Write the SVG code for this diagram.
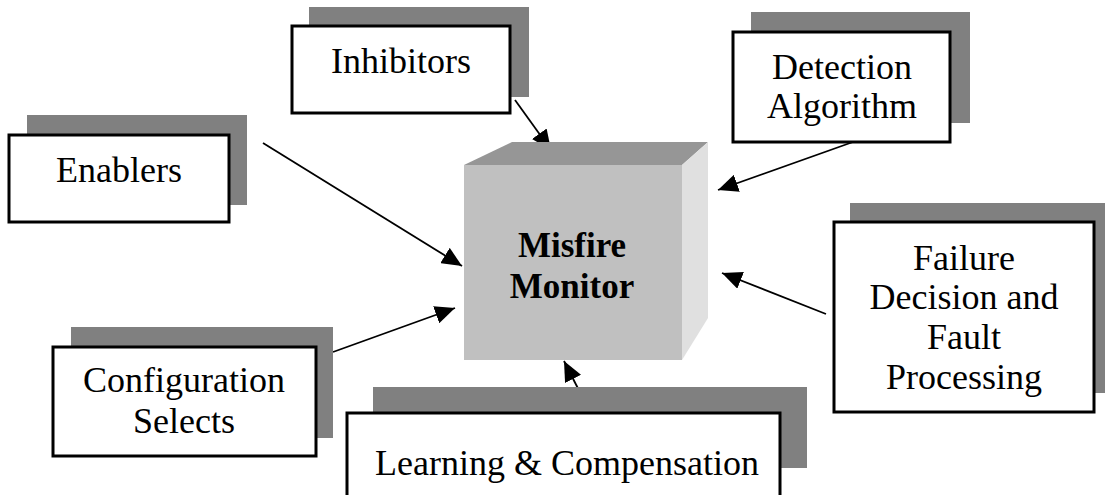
<svg xmlns="http://www.w3.org/2000/svg" width="1105" height="495" viewBox="0 0 1105 495">
<defs>
<marker id="ah" viewBox="0 0 20 18" refX="20" refY="9" markerWidth="20" markerHeight="18" markerUnits="userSpaceOnUse" orient="auto">
<path d="M0,0 L20,9 L0,18 Z" fill="#000"/>
</marker>
</defs>
<style>
.sh{fill:#808080}
.bx{fill:#fff;stroke:#000;stroke-width:3}
.t{font-family:"Liberation Serif","Times New Roman",serif;font-size:36px;fill:#000;text-anchor:middle}
.tb{font-family:"Liberation Serif","Times New Roman",serif;font-size:35px;font-weight:bold;fill:#000;text-anchor:middle}
.ln{stroke:#000;stroke-width:1.8;fill:none;marker-end:url(#ah)}
</style>
<rect width="1105" height="495" fill="#fff"/>
<g id="connectors">
<line class="ln" x1="515" y1="100" x2="551" y2="150"/>
<line class="ln" x1="263" y1="143" x2="462" y2="266"/>
<line class="ln" x1="333" y1="352" x2="455" y2="308"/>
<line class="ln" x1="590" y1="412" x2="564" y2="361"/>
<line class="ln" x1="867" y1="137" x2="718" y2="190"/>
<line class="ln" x1="826" y1="314" x2="722" y2="273"/>
</g>
<g id="misfire-monitor">
<polygon points="464,165 512,142 708,142 682,165" fill="#969696"/>
<polygon points="682,165 708,142 708,318 682,360" fill="#e0e0e0"/>
<rect x="464" y="165" width="218" height="195" fill="#c0c0c0"/>
<text class="tb" x="572" y="257">Misfire</text>
<text class="tb" x="572" y="298">Monitor</text>
</g>
<g id="inhibitors">
<rect class="sh" x="309" y="7" width="220" height="90"/>
<rect class="bx" x="292" y="26" width="218" height="87"/>
<text class="t" x="401" y="73">Inhibitors</text>
</g>
<g id="enablers">
<rect class="sh" x="27" y="115" width="220" height="90"/>
<rect class="bx" x="9" y="135" width="220" height="87"/>
<text class="t" x="119" y="182">Enablers</text>
</g>
<g id="configuration-selects">
<rect class="sh" x="71" y="327" width="262" height="111"/>
<rect class="bx" x="53" y="347" width="263" height="109"/>
<text class="t" x="184" y="392">Configuration</text>
<text class="t" x="184" y="433">Selects</text>
</g>
<g id="learning-compensation">
<rect class="sh" x="373" y="387" width="434" height="81"/>
<rect class="bx" x="347" y="413" width="433" height="90"/>
<text class="t" x="567" y="475">Learning &amp; Compensation</text>
</g>
<g id="detection-algorithm">
<rect class="sh" x="751" y="12" width="219" height="111"/>
<rect class="bx" x="733" y="32" width="217" height="110"/>
<text class="t" x="842" y="79">Detection</text>
<text class="t" x="842" y="118">Algorithm</text>
</g>
<g id="failure-decision">
<rect class="sh" x="850" y="203" width="255" height="190"/>
<rect class="bx" x="834" y="222" width="260" height="190"/>
<text class="t" x="964" y="270">Failure</text>
<text class="t" x="964" y="309">Decision and</text>
<text class="t" x="964" y="349">Fault</text>
<text class="t" x="964" y="389">Processing</text>
</g>
</svg>
